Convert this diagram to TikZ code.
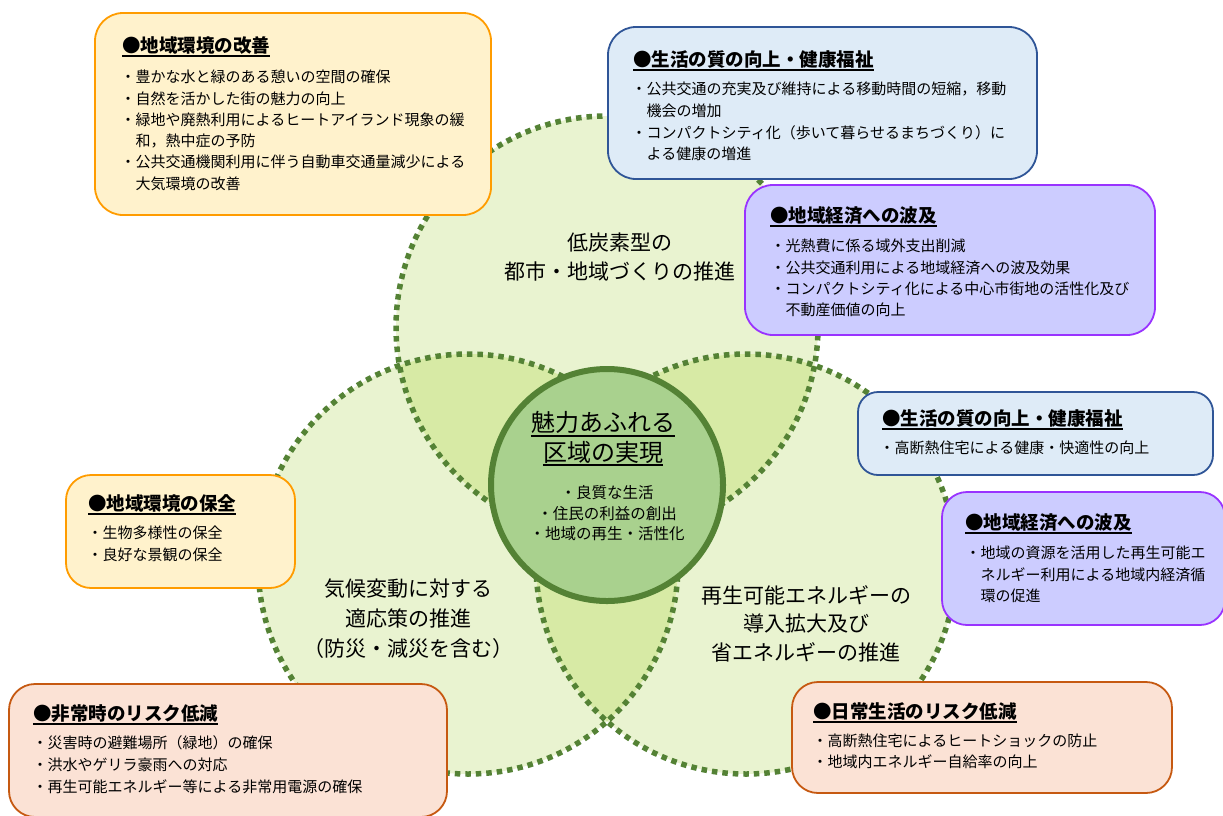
\documentclass[tikz,border=0pt]{standalone}
\usepackage{fontspec}
\setmainfont{Noto Sans CJK JP}
\definecolor{lightgreen}{HTML}{E9F3D0}
\definecolor{lensgreen}{HTML}{D7EAA5}
\definecolor{dotgreen}{HTML}{548235}
\definecolor{coregreen}{HTML}{A9D18E}
\definecolor{orangef}{HTML}{FFF2CC}
\definecolor{orangeb}{HTML}{FF9C00}
\definecolor{bluef}{HTML}{DEEBF7}
\definecolor{blueb}{HTML}{2F5597}
\definecolor{purplef}{HTML}{CCCCFF}
\definecolor{purpleb}{HTML}{9933FF}
\definecolor{salmonf}{HTML}{FBE2D5}
\definecolor{salmonb}{HTML}{C65911}
\begin{document}
\begin{tikzpicture}[x=1pt,y=-1pt,
  dotline/.style={draw=dotgreen, line width=5.5pt, dash pattern=on 5.5pt off 5pt},
  boxbase/.style={rectangle, line width=1.8pt, inner sep=0pt, outer sep=0pt},
  obox/.style={boxbase, draw=orangeb, fill=orangef, rounded corners=28pt},
  bbox/.style={boxbase, draw=blueb, fill=bluef, rounded corners=28pt},
  pbox/.style={boxbase, draw=purpleb, fill=purplef, rounded corners=28pt},
  sbox/.style={boxbase, draw=salmonb, fill=salmonf, rounded corners=26pt},
  ttl/.style={font=\fontsize{18.5}{20}\selectfont\bfseries, inner sep=0pt, anchor=base west},
  itm/.style={font=\fontsize{15}{18}\selectfont, inner sep=0pt, anchor=base west},
  lbl/.style={font=\fontsize{21}{24}\selectfont, inner sep=0pt, anchor=base},
  corelbl/.style={font=\fontsize{24}{26}\selectfont, inner sep=0pt, anchor=base},
  coreitm/.style={font=\fontsize{15.5}{18}\selectfont, inner sep=0pt, anchor=base},
  uline/.style={line width=1.4pt, black}
]
\useasboundingbox (0,0) rectangle (1223,815);

% circle fills
\coordinate (ct) at (607,327);
\coordinate (cl) at (468,564);
\coordinate (cr) at (746,564);
\fill[lightgreen] (ct) circle[radius=211pt];
\fill[lightgreen] (cl) circle[radius=210pt];
\fill[lightgreen] (cr) circle[radius=210pt];
% lens fills
\begin{scope}
  \clip (ct) circle[radius=211pt];
  \fill[lensgreen] (cl) circle[radius=210pt];
  \fill[lensgreen] (cr) circle[radius=210pt];
\end{scope}
\begin{scope}
  \clip (cl) circle[radius=210pt];
  \fill[lensgreen] (cr) circle[radius=210pt];
\end{scope}
% dotted outlines
\draw[dotline] (ct) circle[radius=211pt];
\draw[dotline] (cl) circle[radius=210pt];
\draw[dotline] (cr) circle[radius=210pt];

% core circle
\node[circle, draw=dotgreen, fill=coregreen, line width=6pt, minimum size=232pt, inner sep=0pt] (core) at (607,485) {};
\node[corelbl] (core1) at (603,431) {魅力あふれる};
\node[corelbl] (core2) at (603,461) {区域の実現};
\draw[uline] ([yshift=-5pt]core1.base west) -- ([yshift=-5pt]core1.base east);
\draw[uline] ([yshift=-4pt]core2.base west) -- ([yshift=-4pt]core2.base east);
\node[coreitm] (ci1) at (607,498) {・良質な生活};
\node[coreitm] (ci2) at (607,519) {・住民の利益の創出};
\node[coreitm] (ci3) at (607,539) {・地域の再生・活性化};

% circle labels
\node[lbl] (tl1) at (620,250) {低炭素型の};
\node[lbl] (tl2) at (620,279) {都市・地域づくりの推進};
\node[lbl] (ll1) at (408,596) {気候変動に対する};
\node[lbl] (ll2) at (408,626) {適応策の推進};
\node[lbl] (ll3) at (408,656) {（防災・減災を含む）};
\node[lbl] (rl1) at (806,603) {再生可能エネルギーの};
\node[lbl] (rl2) at (806,631) {導入拡大及び};
\node[lbl] (rl3) at (806,660) {省エネルギーの推進};

% Box 1
\node[obox, minimum width=396pt, minimum height=202pt] (box1) at (293,114) {};
\node[ttl] (t1) at (122,52) {●地域環境の改善};
\draw[uline] ([yshift=-4pt]t1.base west) -- ([yshift=-4pt]t1.base east);
\foreach \s [count=\i from 0] in {・豊かな水と緑のある憩いの空間の確保,・自然を活かした街の魅力の向上,・緑地や廃熱利用によるヒートアイランド現象の緩,{\hspace*{1em}和，熱中症の予防},・公共交通機関利用に伴う自動車交通量減少による,{\hspace*{1em}大気環境の改善}}
  \node[itm] (b1i\i) at ({120.5},{82.7+21.3*\i}) {\s};

% Box 2
\node[bbox, minimum width=429pt, minimum height=152pt] (box2) at (822.5,103) {};
\node[ttl] (t2) at (633,66) {●生活の質の向上・健康福祉};
\draw[uline] ([yshift=-4pt]t2.base west) -- ([yshift=-4pt]t2.base east);
\foreach \s [count=\i from 0] in {・公共交通の充実及び維持による移動時間の短縮，移動,{\hspace*{1em}機会の増加},・コンパクトシティ化（歩いて暮らせるまちづくり）に,{\hspace*{1em}よる健康の増進}}
  \node[itm] (b2i\i) at ({631.5},{94.7+21.7*\i}) {\s};

% Box 3
\node[pbox, minimum width=410pt, minimum height=150pt] (box3) at (950,260) {};
\node[ttl] (t3) at (770,222) {●地域経済への波及};
\draw[uline] ([yshift=-4pt]t3.base west) -- ([yshift=-4pt]t3.base east);
\foreach \s [count=\i from 0] in {・光熱費に係る域外支出削減,・公共交通利用による地域経済への波及効果,・コンパクトシティ化による中心市街地の活性化及び,{\hspace*{1em}不動産価値の向上}}
  \node[itm] (b3i\i) at ({770.5},{251.7+21.3*\i}) {\s};

% Box 4
\node[bbox, rounded corners=20pt, minimum width=355pt, minimum height=83pt] (box4) at (1035.5,433.5) {};
\node[ttl] (t4) at (882,425) {●生活の質の向上・健康福祉};
\draw[uline] ([yshift=-4pt]t4.base west) -- ([yshift=-4pt]t4.base east);
\node[itm] (b4i0) at (879.5,453.7) {・高断熱住宅による健康・快適性の向上};

% Box 5
\node[pbox, rounded corners=25pt, minimum width=283pt, minimum height=133pt] (box5) at (1083.5,558.5) {};
\node[ttl] (t5) at (965,529) {●地域経済への波及};
\draw[uline] ([yshift=-4pt]t5.base west) -- ([yshift=-4pt]t5.base east);
\foreach \s [count=\i from 0] in {・地域の資源を活用した再生可能エ,{\hspace*{1em}ネルギー利用による地域内経済循},{\hspace*{1em}環の促進}}
  \node[itm] (b5i\i) at ({965.5},{558.7+21.5*\i}) {\s};

% Box 6
\node[obox, rounded corners=25pt, minimum width=229pt, minimum height=113pt] (box6) at (180.5,531.5) {};
\node[ttl] (t6) at (88,510) {●地域環境の保全};
\draw[uline] ([yshift=-4pt]t6.base west) -- ([yshift=-4pt]t6.base east);
\foreach \s [count=\i from 0] in {・生物多様性の保全,・良好な景観の保全}
  \node[itm] (b6i\i) at ({87.5},{538.7+22*\i}) {\s};

% Box 7
\node[sbox, minimum width=438pt, minimum height=133pt] (box7) at (228,750.5) {};
\node[ttl] (t7) at (33,720) {●非常時のリスク低減};
\draw[uline] ([yshift=-4pt]t7.base west) -- ([yshift=-4pt]t7.base east);
\foreach \s [count=\i from 0] in {・災害時の避難場所（緑地）の確保,・洪水やゲリラ豪雨への対応,・再生可能エネルギー等による非常用電源の確保}
  \node[itm] (b7i\i) at ({32.5},{748.7+22*\i}) {\s};

% Box 8
\node[sbox, minimum width=380pt, minimum height=111pt] (box8) at (982,737.5) {};
\node[ttl] (t8) at (813,718) {●日常生活のリスク低減};
\draw[uline] ([yshift=-4pt]t8.base west) -- ([yshift=-4pt]t8.base east);
\foreach \s [count=\i from 0] in {・高断熱住宅によるヒートショックの防止,・地域内エネルギー自給率の向上}
  \node[itm] (b8i\i) at ({812.5},{746.7+20.5*\i}) {\s};
\end{tikzpicture}
\end{document}
